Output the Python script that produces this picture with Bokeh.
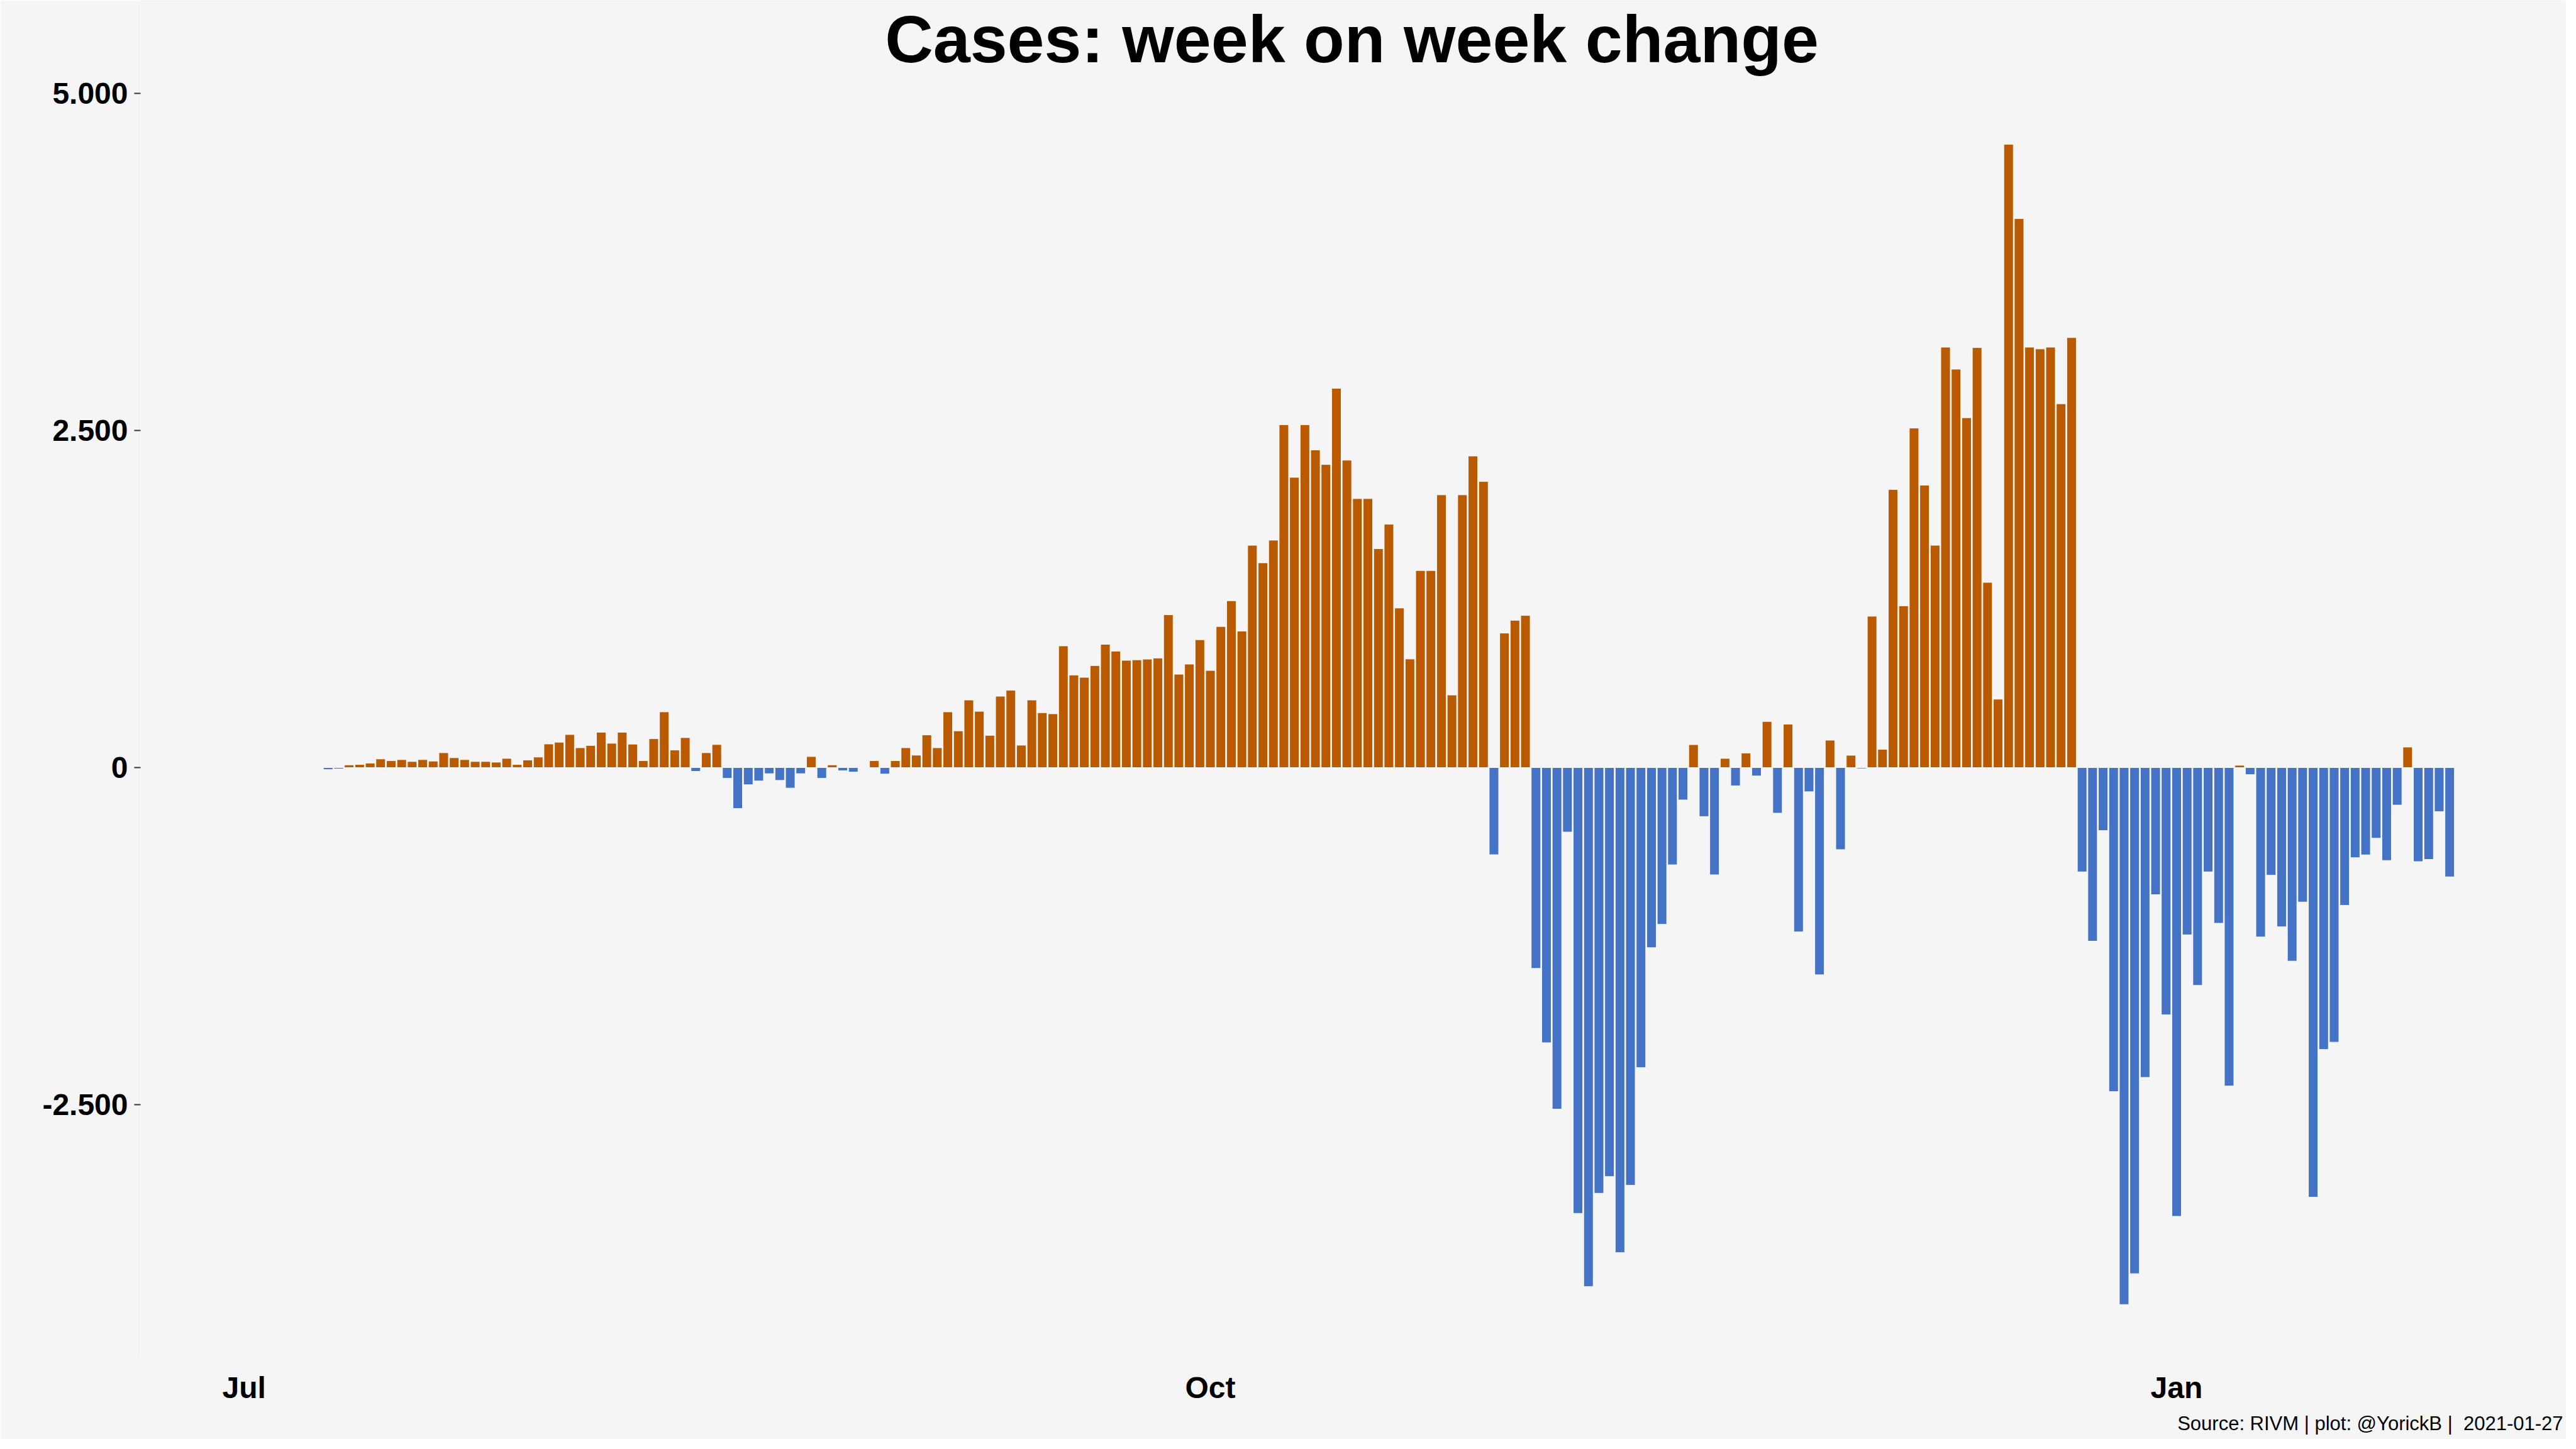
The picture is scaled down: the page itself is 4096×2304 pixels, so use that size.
import pandas as pd
from bokeh.plotting import figure
from bokeh.models import ColumnDataSource, FixedTicker, Label, Range1d, Title
from bokeh.embed import file_html
from bokeh.resources import INLINE

# ---------------- data ----------------
start_date = "2020-07-09"
end_date = "2021-01-27"

week_change = [
    -15, -10, 20, 23, 33, 64, 51, 59, 45, 59,
    48, 110, 73, 59, 45, 45, 40, 68, 23, 56,
    78, 175, 188, 245, 147, 164, 262, 180, 262, 174,
    51, 214, 413, 130, 222, -28, 110, 171, -79, -303,
    -127, -99, -45, -95, -152, -45, 82, -79, 20, -23,
    -33, -5, 51, -48, 51, 147, 92, 242, 147, 413,
    272, 501, 417, 239, 529, 573, 166, 501, 407, 399,
    902, 686, 669, 756, 914, 863, 795, 799, 804, 812,
    1133, 692, 767, 948, 720, 1046, 1237, 1012, 1648, 1518,
    1686, 2542, 2152, 2542, 2355, 2247, 2812, 2279, 1994, 1994,
    1623, 1804, 1183, 805, 1461, 1461, 2022, 538, 2022, 2310,
    2121, -646, 997, 1092, 1128, -1489, -2040, -2532, -478, -3305,
    -3848, -3156, -3032, -3596, -3097, -2224, -1335, -1162, -721, -240,
    170, -363, -795, 68, -135, 108, -62, 342, -338, 322,
    -1218, -179, -1536, 203, -608, 91, -8, 1122, 135, 2062,
    1199, 2517, 2094, 1648, 3117, 2954, 2594, 3114, 1373, 507,
    4621, 4070, 3117, 3104, 3117, 2697, 3188, -773, -1287, -467,
    -2402, -3981, -3752, -2297, -942, -1833, -3327, -1240, -1615, -773,
    -1154, -2361, 17, -52, -1256, -798, -1180, -1435, -997, -3185,
    -2090, -2036, -1021, -668, -647, -524, -689, -278, 152, -697,
    -681, -326, -810,
]

x_tick_dates = ["2020-07-01", "2020-10-01", "2021-01-01"]
x_tick_labels = ["Jul", "Oct", "Jan"]
y_ticks = [-2500, 0, 2500, 5000]
y_tick_labels = ["-2.500", "0", "2.500", "5.000"]

title_text = "Cases: week on week change"
caption_text = "Source: RIVM | plot: @YorickB |\u00a0 2021-01-27"

# ---------------- styling ----------------
BG = "#F5F5F5"
ORANGE = "#BA5A00"
BLUE = "#4472C4"
FONT = "Liberation Sans"
DAY_MS = 86400000

W, H = 4080, 2288
B_LEFT, B_RIGHT, B_TOP, B_BOTTOM = 223, 5, 0, 126
FRAME_W = W - B_LEFT - B_RIGHT
FRAME_H = H - B_TOP - B_BOTTOM
PX_PER_UNIT = 2033 / 9462.0               # vertical scale of the value axis
Y_TOP = 5051 + 137 / PX_PER_UNIT          # frame reaches the top of the canvas
Y_BOTTOM = -4411 + 8 / PX_PER_UNIT        # frame bottom raised by 8 px

dates = pd.date_range(start_date, end_date, freq="D")
colors = [ORANGE if v >= 0 else BLUE for v in week_change]
source = ColumnDataSource(dict(date=dates, value=week_change, color=colors))

ref = pd.Timestamp("2020-07-01")
x0 = ref - pd.Timedelta(days=9.86)
x1 = ref + pd.Timedelta(days=220.8)

p = figure(
    width=W, height=H,
    x_axis_type="datetime",
    x_range=Range1d(x0, x1),
    y_range=Range1d(Y_BOTTOM, Y_TOP),
    output_backend="svg", toolbar_location=None,
    background_fill_color=BG, border_fill_color=BG,
    min_border_left=B_LEFT, min_border_right=B_RIGHT,
    min_border_top=B_TOP, min_border_bottom=B_BOTTOM,
)
p.outline_line_color = None
p.grid.grid_line_color = None

p.vbar(x="date", top="value", bottom=0, width=0.9 * DAY_MS,
       fill_color="color", line_color="white", line_width=1, line_alpha=0.9,
       source=source)

# title (screen units: relative to the frame, y upward)
p.add_layout(Label(x=FRAME_W / 2, y=FRAME_H - 65, x_units="screen", y_units="screen",
                   text=title_text, text_align="center", text_baseline="alphabetic",
                   text_font=FONT, text_font_size="106px", text_font_style="bold",
                   text_color="black"))

# caption
p.add_layout(Title(text=caption_text, align="right", text_font=FONT,
                   text_font_size="31px", text_font_style="normal",
                   text_color="black", standoff=16), "below")

# y axis
p.yaxis.ticker = FixedTicker(ticks=y_ticks)
p.yaxis.major_label_overrides = {t: l for t, l in zip(y_ticks, y_tick_labels)}
# x axis
x_ticks_ms = [int(pd.Timestamp(d).value // 10**6) for d in x_tick_dates]
p.xaxis.ticker = FixedTicker(ticks=x_ticks_ms)
p.xaxis.major_label_overrides = {t: l for t, l in zip(x_ticks_ms, x_tick_labels)}

for ax in (p.xaxis, p.yaxis):
    ax.axis_line_color = None
    ax.minor_tick_line_color = None
    ax.major_tick_line_color = "#333333"
    ax.major_tick_line_width = 2
    ax.major_tick_out = 10
    ax.major_tick_in = 0
    ax.major_label_standoff = 10
    ax.major_label_text_font = FONT
    ax.major_label_text_font_size = "48px"
    ax.major_label_text_font_style = "bold"
    ax.major_label_text_color = "black"

p.xaxis.major_tick_line_color = None
p.xaxis.major_tick_out = 11

open("out.html", "w").write(file_html(p, INLINE))
